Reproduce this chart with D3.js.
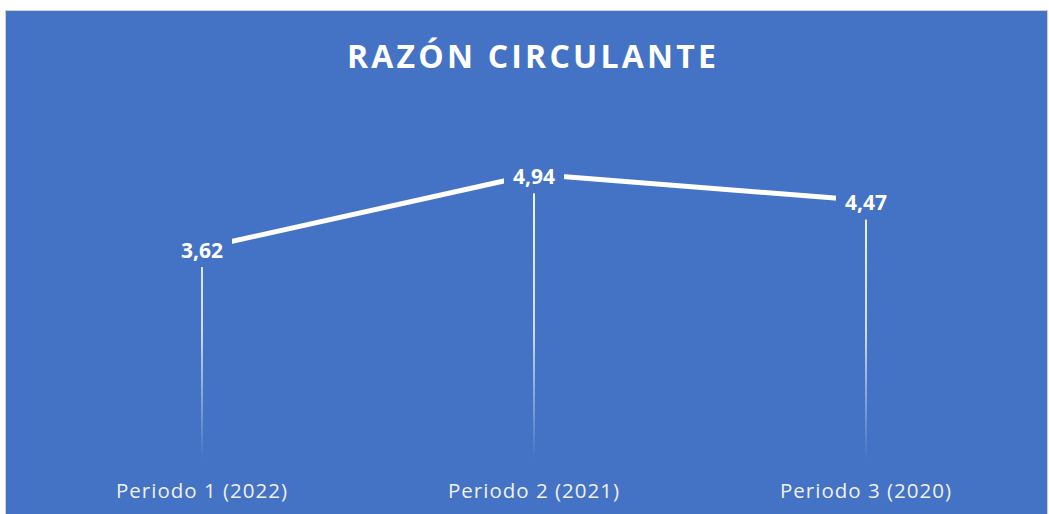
<!DOCTYPE html>
<html>
<head>
<meta charset="utf-8">
<script src="https://cdn.jsdelivr.net/npm/d3@7"></script>
<style>
  body { margin: 0; background: #fff; }
  svg { display: block; font-family: "Open Sans", sans-serif; }
</style>
</head>
<body>
<div id="chart"></div>
<script>
// Data

var categories = ["Periodo 1 (2022)", "Periodo 2 (2021)", "Periodo 3 (2020)"];
var values = [3.62, 4.94, 4.47];
var valueLabels = ["3,62", "4,94", "4,47"];

var width = 1049,
    height = 514,
    bg = "#4472C4";

var svg = d3.select("#chart").append("svg")
    .attr("width", width)
    .attr("height", height);

// chart area with thin grey border
svg.append("rect")
    .attr("x", 5.5)
    .attr("y", 10.5)
    .attr("width", 1042)
    .attr("height", 510)
    .attr("fill", bg)
    .attr("stroke", "#d0d0d0")
    .attr("stroke-width", 1);

var x = d3.scaleBand()
    .domain(categories)
    .range([36, 1032]);

var y = d3.scaleLinear()
    .domain([0, 6])
    .range([450, 450 - 6 * 55.8]);

var cx = function(d, i) { return x(categories[i]) + x.bandwidth() / 2; };

// gradient for the drop lines
var grad = svg.append("defs").append("linearGradient")
    .attr("id", "dropFade")
    .attr("gradientUnits", "userSpaceOnUse")
    .attr("x1", 0).attr("x2", 0)
    .attr("y1", y(5)).attr("y2", y(0) + 10);
grad.append("stop").attr("offset", "0").attr("stop-color", "#fff").attr("stop-opacity", 0.95);
grad.append("stop").attr("offset", "0.55").attr("stop-color", "#fff").attr("stop-opacity", 0.75);
grad.append("stop").attr("offset", "1").attr("stop-color", "#fff").attr("stop-opacity", 0);

// Title
svg.append("text")
    .attr("x", 533)
    .attr("y", 68)
    .attr("text-anchor", "middle")
    .attr("fill", "#fff")
    .attr("font-size", 32)
    .attr("font-weight", "bold")
    .attr("letter-spacing", 3.2)
    .text("RAZÓN CIRCULANTE");

// Drop lines
svg.selectAll(".drop")
    .data(values)
  .enter().append("line")
    .attr("class", "drop")
    .attr("x1", cx)
    .attr("x2", cx)
    .attr("y1", function(d) { return y(d); })
    .attr("y2", y(0) + 10)
    .attr("stroke", "url(#dropFade)")
    .attr("stroke-width", 2);

// Line
var line = d3.line()
    .x(function(d, i) { return cx(d, i); })
    .y(function(d) { return y(d); });

svg.append("path")
    .datum(values)
    .attr("d", line)
    .attr("fill", "none")
    .attr("stroke", "#fff")
    .attr("stroke-width", 5);

// Data labels (boxes in background colour hide the lines behind them)
var labels = svg.selectAll(".dlabel")
    .data(values)
  .enter().append("g")
    .attr("class", "dlabel")
    .attr("transform", function(d, i) {
        return "translate(" + cx(d, i) + "," + (y(d) + 2) + ")";
    });

labels.append("rect")
    .attr("x", -30)
    .attr("y", -17)
    .attr("width", 60)
    .attr("height", 34)
    .attr("fill", bg);

labels.append("text")
    .attr("text-anchor", "middle")
    .attr("dy", "0.36em")
    .attr("fill", "#fff")
    .attr("font-size", 21)
    .attr("font-weight", "bold")
    .text(function(d, i) { return valueLabels[i]; });

// Category axis labels
svg.selectAll(".xlabel")
    .data(categories)
  .enter().append("text")
    .attr("class", "xlabel")
    .attr("x", function(d) { return x(d) + x.bandwidth() / 2; })
    .attr("y", 498)
    .attr("text-anchor", "middle")
    .attr("fill", "#f0f0f0")
    .attr("font-size", 20.5)
    .attr("letter-spacing", 1)
    .text(function(d) { return d; });
</script>
</body>
</html>
